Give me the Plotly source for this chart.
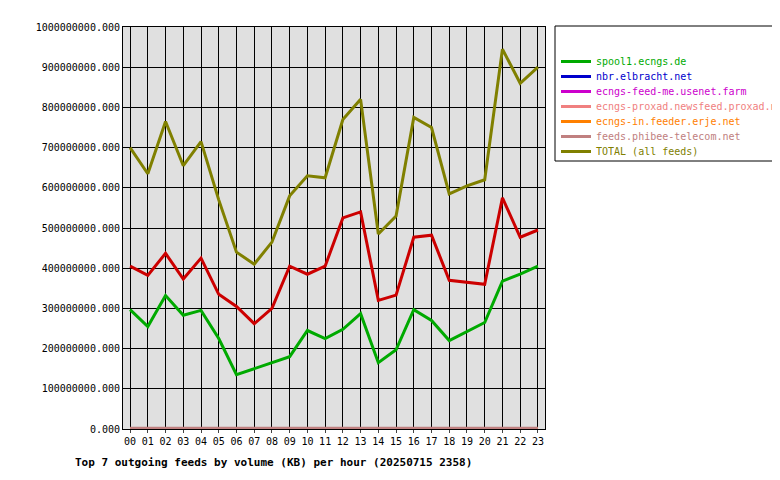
import plotly.graph_objects as go

hours = [f"{h:02d}" for h in range(24)]
feeder = [405,382,437,373,425,335,305,262,300,405,385,405,525,540,320,333,477,482,370,365,360,575,477,495]
spool1 = [297,255,332,283,295,225,135,150,165,180,245,225,248,287,165,197,297,270,220,242,265,368,385,405]
nbr = [1]*24
feedme = [1.5]*24
proxad = [1]*24
erje = [1]*24
phibee = [2]*24
total = [700,635,765,655,715,570,440,410,465,580,630,625,770,820,485,530,775,750,585,605,620,945,860,900]

series = [
    ("feeder.ecngs.de", [v*1e6 for v in feeder], "#cc0000"),
    ("spool1.ecngs.de", [v*1e6 for v in spool1], "#00aa00"),
    ("nbr.elbracht.net", [v*1e6 for v in nbr], "#0000cc"),
    ("ecngs-feed-me.usenet.farm", [v*1e6 for v in feedme], "#cc00cc"),
    ("ecngs-proxad.newsfeed.proxad.net", [v*1e6 for v in proxad], "#f08080"),
    ("ecngs-in.feeder.erje.net", [v*1e6 for v in erje], "#ff8000"),
    ("feeds.phibee-telecom.net", [v*1e6 for v in phibee], "#c08080"),
    ("TOTAL (all feeds)", [v*1e6 for v in total], "#808000"),
]
L, R, T, B = 115, 243, 19, 59
W, H = 780, 480
PW, PH = W - L - R, H - T - B
def px(x): return (x - L) / PW
def py(y): return (H - B - y) / PH

fig = go.Figure()
layout_legends = {}
for i, (name, vals, col) in enumerate(series):
    key = "legend" if i == 0 else f"legend{i+1}"
    fig.add_trace(go.Scatter(x=hours, y=vals, name=name, mode="lines",
                             line=dict(color=col, width=3), legend=key))
    layout_legends[key] = dict(x=px(548), y=py(24 + i * 15), xanchor="left", yanchor="top",
                               bgcolor="rgba(0,0,0,0)", borderwidth=0,
                               font=dict(size=10, color=col, family="DejaVu Sans Mono"),
                               itemwidth=30, tracegroupgap=0)
ticks = [i*1e8 for i in range(11)]
fig.update_layout(
    width=W, height=H, margin=dict(l=L, r=R, t=T, b=B, autoexpand=False),
    paper_bgcolor="white", plot_bgcolor="#e0e0e0",
    font=dict(family="DejaVu Sans Mono", size=10, color="black"),
    xaxis=dict(showgrid=True, gridcolor="black", gridwidth=1, linecolor="black", mirror=True,
               ticks="outside", ticklen=3, range=[-0.4, 23.4], automargin=False),
    yaxis=dict(range=[0, 1e9], tickvals=ticks, ticktext=[f"{int(t)}.000" for t in ticks],
               showgrid=True, gridcolor="black", linecolor="black", mirror=True, zeroline=False,
               automargin=False),
    title=dict(text="<b>Top 7 outgoing feeds by volume (KB) per hour (20250715 2358)</b>",
               x=67/W, xanchor="left", y=(H-458)/H, yanchor="bottom", font=dict(size=11)),
    shapes=[dict(type="rect", xref="paper", yref="paper", x0=px(547), x1=px(770),
                 y0=py(153), y1=py(18), line=dict(color="black", width=1))],
    **layout_legends,
)
fig.write_html("out.html")
